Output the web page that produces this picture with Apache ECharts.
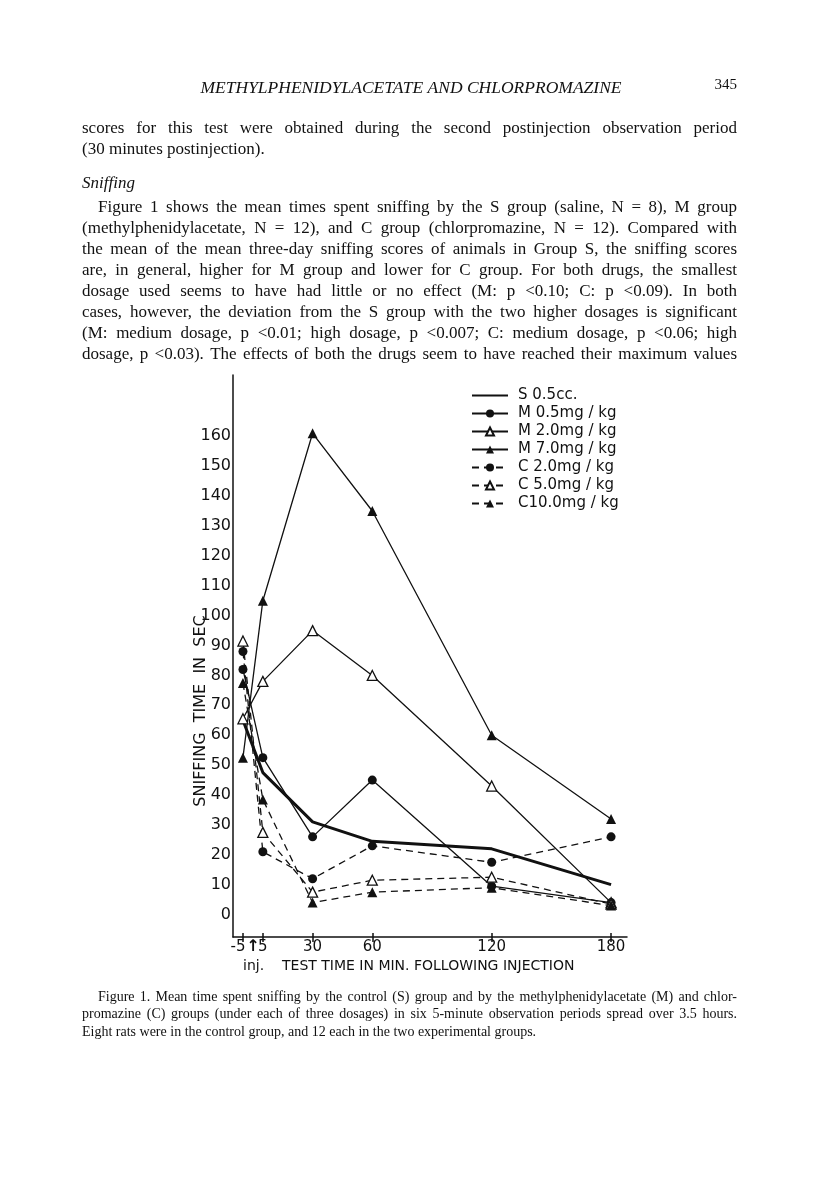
<!DOCTYPE html>
<html>
<head>
<meta charset="utf-8">
<script src="https://cdn.jsdelivr.net/npm/echarts@6/dist/echarts.min.js"></script>
<style>
  html, body { margin: 0; padding: 0; background: #fff; }
  #page { width: 816px; height: 1188px; }
</style>
</head>
<body>
<div id="page"></div>
<script type="text/javascript">
// test times (minutes after injection)
var times = [-5, 5, 30, 60, 120, 180];

// mean sniffing time in sec, one value per test time
var salineS05 = [65, 47.5, 31, 24.5, 22, 10];
var methM05 = [82, 52.5, 26, 45, 9.5, 4];
var methM20 = [65.5, 78, 95, 80, 43, 4];
var methM70 = [52.5, 105, 161, 135, 60, 32];
var chlorC20 = [88, 21, 12, 23, 17.5, 26];
var chlorC50 = [91.5, 27.5, 7.5, 11.5, 12.5, 3.5];
var chlorC100 = [77.5, 38.5, 4, 7.5, 9, 3];

var xTicks = [-5, 5, 30, 60, 120, 180];
var yLabels = [0, 10, 20, 30, 40, 50, 60, 70, 80, 90, 100, 110, 120, 130, 140, 150, 160];

var serif = '"Liberation Serif", "Times New Roman", serif';
var sans = '"DejaVu Sans", sans-serif';

var bodyLines = [
    'scores for this test were obtained during the second postinjection observation period',
    '(30 minutes postinjection).'
];
var paraLines = [
    'Figure 1 shows the mean times spent sniffing by the S group (saline, N = 8), M group',
    '(methylphenidylacetate, N = 12), and C group (chlorpromazine, N = 12). Compared with',
    'the mean of the mean three-day sniffing scores of animals in Group S, the sniffing scores',
    'are, in general, higher for M group and lower for C group. For both drugs, the smallest',
    'dosage used seems to have had little or no effect (M: p <0.10; C: p <0.09). In both',
    'cases, however, the deviation from the S group with the two higher dosages is significant',
    '(M: medium dosage, p <0.01; high dosage, p <0.007; C: medium dosage, p <0.06; high',
    'dosage, p <0.03). The effects of both the drugs seem to have reached their maximum values'
];
var captionLines = [
    'Figure 1.  Mean time spent sniffing by the control (S) group and by the methylphenidylacetate (M) and chlor-',
    'promazine (C) groups (under each of three dosages) in six 5-minute observation periods spread over 3.5 hours.',
    'Eight rats were in the control group, and 12 each in the two experimental groups.'
];

var measure = document.createElement('canvas').getContext('2d');

// lay out one line of text word by word, stretched to the right margin when justify is set
function textLine(text, x0, x1, y, size, italic, justify) {
    measure.font = (italic ? 'italic ' : '') + size + 'px ' + serif;
    var words = text.split(/ +/);
    var widths = words.map(function (w) { return measure.measureText(w).width; });
    var total = widths.reduce(function (a, b) { return a + b; }, 0);
    var gap = measure.measureText(' ').width;
    if (justify && words.length > 1) gap = (x1 - x0 - total) / (words.length - 1);
    var els = [];
    var x = x0;
    words.forEach(function (w, i) {
        els.push({
            type: 'text', x: x, y: y, silent: true,
            style: {
                text: w, fill: '#111', fontSize: size, fontFamily: serif,
                fontStyle: italic ? 'italic' : 'normal',
                align: 'left', verticalAlign: 'middle'
            }
        });
        x += widths[i] + gap;
    });
    return els;
}

var graphics = [];
graphics.push({
    type: 'text', x: 411, y: 88, silent: true,
    style: { text: 'METHYLPHENIDYLACETATE AND CHLORPROMAZINE', fill: '#111', fontSize: 17.5,
        fontFamily: serif, fontStyle: 'italic', align: 'center', verticalAlign: 'middle' }
});
graphics.push({
    type: 'text', x: 737, y: 85, silent: true,
    style: { text: '345', fill: '#111', fontSize: 15, fontFamily: serif, align: 'right', verticalAlign: 'middle' }
});
graphics = graphics.concat(textLine(bodyLines[0], 82, 737, 129, 17, false, true));
graphics = graphics.concat(textLine(bodyLines[1], 82, 737, 150, 17, false, false));
graphics = graphics.concat(textLine('Sniffing', 82, 737, 184, 17, true, false));
paraLines.forEach(function (l, i) {
    var x0 = i === 0 ? 98 : 82;
    graphics = graphics.concat(textLine(l, x0, 737, 208 + i * 21, 17, false, true));
});
captionLines.forEach(function (l, i) {
    var x0 = i === 0 ? 98 : 82;
    graphics = graphics.concat(textLine(l, x0, 737, 997 + i * 17.5, 14, false, i < 2));
});
// axis titles
graphics.push({
    type: 'text', x: 201, y: 711, rotation: Math.PI / 2, silent: true,
    style: { text: 'SNIFFING  TIME  IN  SEC', fill: '#111', fontSize: 16, fontFamily: sans,
        align: 'center', verticalAlign: 'middle' }
});
// injection arrow at t = 0
graphics.push({
    type: 'text', x: 253, y: 947, silent: true,
    style: { text: '\u2191', fill: '#111', fontSize: 16, fontFamily: sans, fontWeight: 'bold',
        align: 'center', verticalAlign: 'middle' }
});
graphics.push({
    type: 'text', x: 243, y: 966, silent: true,
    style: { text: 'inj.', fill: '#111', fontSize: 14, fontFamily: sans,
        align: 'left', verticalAlign: 'middle' }
});
graphics.push({
    type: 'text', x: 282, y: 966, silent: true,
    style: { text: 'TEST TIME IN MIN. FOLLOWING INJECTION', fill: '#111', fontSize: 14, fontFamily: sans,
        align: 'left', verticalAlign: 'middle' }
});

function pairs(vals) {
    return times.map(function (t, i) { return [t, vals[i]]; });
}

function mkSeries(name, vals, symbol, open, dashed, width) {
    return {
        name: name,
        type: 'line',
        data: pairs(vals),
        symbol: symbol,
        symbolSize: symbol === 'circle' ? 9 : 10,
        showSymbol: symbol !== 'none',
        lineStyle: { color: '#111', width: width || 1.3, type: dashed ? [7, 5] : 'solid' },
        itemStyle: { color: open ? '#fff' : '#111', borderColor: '#111', borderWidth: open ? 1.3 : 0 },
        emphasis: { disabled: true },
        animation: false
    };
}

var series = [
    mkSeries('S 0.5cc.', salineS05, 'none', false, false, 3),
    mkSeries('M 0.5mg / kg', methM05, 'circle', false, false),
    mkSeries('M 2.0mg / kg', methM20, 'triangle', true, false),
    mkSeries('M 7.0mg / kg', methM70, 'triangle', false, false),
    mkSeries('C 2.0mg / kg', chlorC20, 'circle', false, true),
    mkSeries('C 5.0mg / kg', chlorC50, 'triangle', true, true),
    mkSeries('C10.0mg / kg', chlorC100, 'triangle', false, true)
];

var legendData = series.map(function (s, i) {
    if (i === 0) return { name: s.name, itemStyle: { opacity: 0 } };
    return { name: s.name };
});

var chart = echarts.init(document.getElementById('page'), null, { renderer: 'canvas' });
var option = {
    backgroundColor: '#fff',
    animation: false,
    grid: { left: 233, top: 375, width: 394, height: 562, containLabel: false },
    legend: {
        orient: 'vertical',
        left: 466,
        top: 383,
        itemWidth: 36,
        itemHeight: 10,
        itemGap: 3,
        selectedMode: false,
        textStyle: { color: '#111', fontSize: 15, fontFamily: sans, padding: [0, 0, 0, 5] },
        data: legendData
    },
    xAxis: [{
        type: 'value',
        min: -10,
        max: 188,
        splitLine: { show: false },
        axisLine: { onZero: false, lineStyle: { color: '#111', width: 1.5 } },
        axisTick: { show: true, length: 5, customValues: xTicks, lineStyle: { color: '#111', width: 1.5 } },
        axisLabel: {
            margin: 3, color: '#111', fontSize: 15, fontFamily: sans,
            hideOverlap: false,
            showMinLabel: true,
            showMaxLabel: true,
            customValues: xTicks,
            // -5 sits a little left of its tick, clear of the injection arrow
            formatter: function (v) { return v === -5 ? '{neg|-5}' : String(v); },
            rich: { neg: { fontSize: 15, fontFamily: sans, color: '#111', padding: [0, 10, 0, 0] } }
        }
    }, {
        type: 'value',
        position: 'bottom',
        min: -10,
        max: 188,
        splitLine: { show: false },
        axisLine: { show: false, onZero: false },
        axisTick: { show: true, inside: true, length: 4, customValues: xTicks, lineStyle: { color: '#111', width: 1.5 } },
        axisLabel: { show: false }
    }],
    yAxis: {
        type: 'value',
        min: -7.5,
        max: 180.5,
        splitLine: { show: false },
        axisLine: { show: true, onZero: false, lineStyle: { color: '#111', width: 1.5 } },
        axisTick: { show: false },
        axisLabel: { margin: 2, color: '#111', fontSize: 16, fontFamily: sans, customValues: yLabels }
    },
    graphic: graphics,
    series: series
};
chart.setOption(option);
</script>
</body>
</html>
